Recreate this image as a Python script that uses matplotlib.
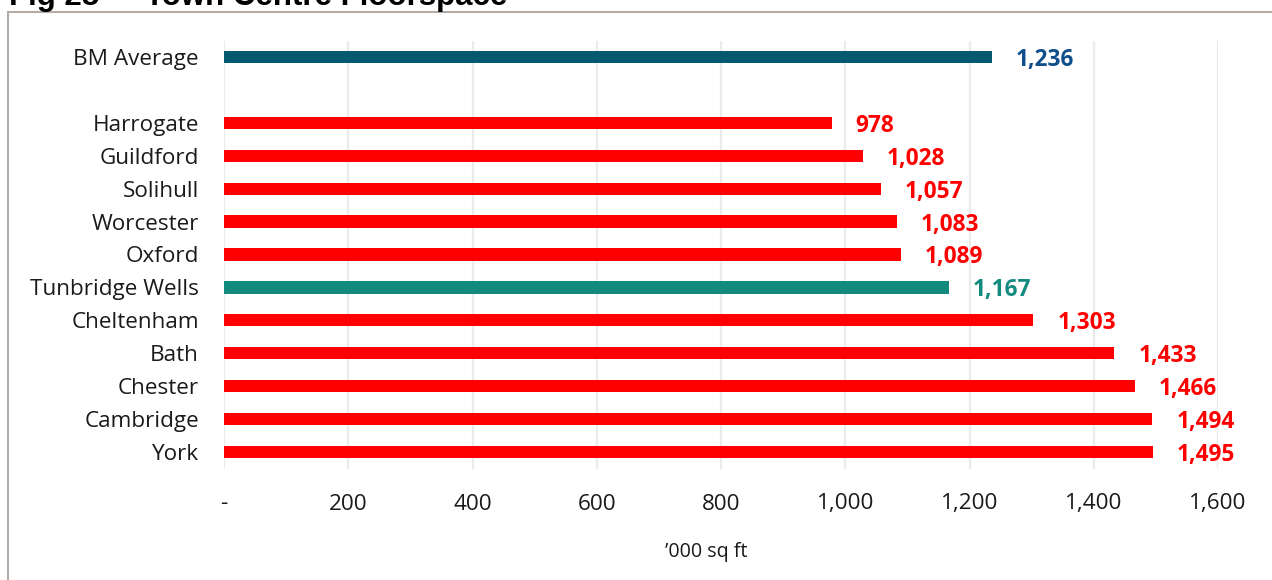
import matplotlib
matplotlib.use("Agg")
import matplotlib.pyplot as plt
from matplotlib.patches import Rectangle
from matplotlib.ticker import FuncFormatter

# Town centre floorspace ('000 sq ft)
towns = ["BM Average", "", "Harrogate", "Guildford", "Solihull", "Worcester",
         "Oxford", "Tunbridge Wells", "Cheltenham", "Bath", "Chester",
         "Cambridge", "York"]
floorspace = [1236, None, 978, 1028, 1057, 1083, 1089, 1167, 1303, 1433,
              1466, 1494, 1495]
x_ticks = [0, 200, 400, 600, 800, 1000, 1200, 1400, 1600]

RED = "#FF0000"
AVG_BAR = "#025A70"
AVG_TEXT = "#0F4F8C"
TW = "#138A7E"

def colours(name):
    if name == "BM Average":
        return AVG_BAR, AVG_TEXT
    if name == "Tunbridge Wells":
        return TW, TW
    return RED, RED

plt.rcParams["font.family"] = ["Open Sans", "DejaVu Sans"]

fig = plt.figure(figsize=(12.72, 5.8), dpi=100)
ax = fig.add_axes([224 / 1272, 1 - 468.5 / 580, 994 / 1272, 428 / 580])

positions = list(range(len(towns)))
for pos, name, val in zip(positions, towns, floorspace):
    if val is None:
        continue
    bar_col, txt_col = colours(name)
    ax.barh(pos, val, height=0.37, color=bar_col, zorder=3)
    ax.annotate(f"{val:,}", xy=(val, pos), xytext=(24, -3),
                textcoords="offset pixels",
                ha="left", va="center", fontsize=16.3, fontweight="bold",
                color=txt_col, zorder=4)

ax.set_ylim(len(towns) - 0.5, -0.5)
ax.set_xlim(0, 1600)
ax.set_yticks(positions)
ax.set_yticklabels(towns, fontsize=16.2, color="#1a1a1a")
ax.set_xticks(x_ticks)
ax.xaxis.set_major_formatter(FuncFormatter(lambda v, p: "-" if v == 0 else f"{int(v):,}"))
ax.tick_params(axis="x", labelsize=16.2, length=0, pad=18, colors="#1a1a1a")
ax.tick_params(axis="y", length=0, pad=18)
ax.grid(axis="x", color="#EBEBEB", linewidth=1.6, zorder=0)
for s in ax.spines.values():
    s.set_visible(False)

fig.text(706 / 1272, 1 - 552 / 580, "\u2019000 sq ft", ha="center", va="center",
         fontsize=14.2, color="#1a1a1a")

# chart frame and heading (its upper part runs past the top edge)
fig.patches.append(Rectangle((8 / 1272, -0.1), 1.2, 1 - 12 / 580 + 0.1,
                             transform=fig.transFigure, fill=False,
                             edgecolor="#B4ACA6", linewidth=1.5))
title_font = dict(fontsize=22.5, fontweight="bold",
                  family=["Liberation Sans", "DejaVu Sans"], color="black",
                  ha="left", va="baseline")
fig.text(9 / 1272, 1 - 5 / 580, "Fig 25 \u2013", **title_font)
fig.text(145 / 1272, 1 - 5 / 580, "Town Centre Floorspace", **title_font)

fig.savefig("out.png", dpi=100)
